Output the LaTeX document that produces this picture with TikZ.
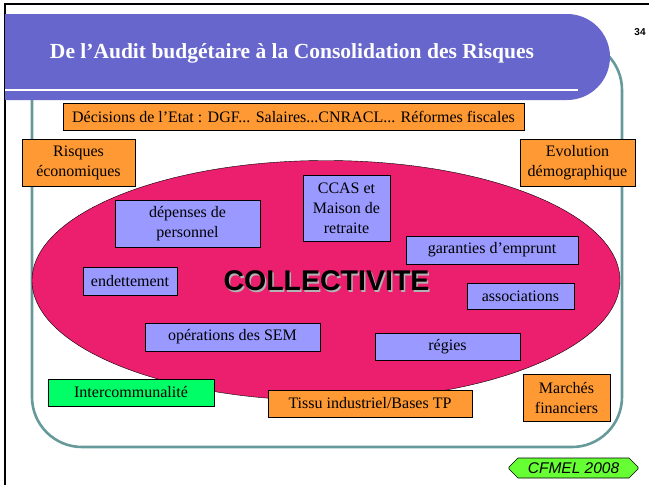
\documentclass[tikz,border=0pt]{standalone}
\usepackage{fontspec}
\usepackage{tikz}
\usepackage{xcolor}
\usetikzlibrary{shapes.misc}
\setmainfont{Liberation Serif}
\setsansfont{Liberation Sans}
\definecolor{titleblue}{HTML}{6666CC}
\definecolor{frameteal}{HTML}{669999}
\definecolor{riskorange}{HTML}{FF9933}
\definecolor{itemblue}{HTML}{9999FF}
\definecolor{collpink}{HTML}{EC1E6E}
\definecolor{intergreen}{HTML}{00FF66}
\definecolor{tagreen}{HTML}{66FF33}
\tikzset{
    plain-box/.style = {draw=black, line width=0.6pt, rectangle, inner sep=2pt, align=center, font=\fontsize{16}{20}\selectfont},
    orange-box/.style = {plain-box, fill=riskorange},
    blue-box/.style = {plain-box, fill=itemblue},
    green-box/.style = {plain-box, fill=intergreen},
}
\begin{document}
\begin{tikzpicture}[x=1pt, y=-1pt]
\useasboundingbox (0,0) rectangle (649,485);
% slide border
\draw[black, line width=1.6pt] (5,485) -- (5,4) -- (649,4);
% frame and title
\draw[frameteal, line width=2.6pt, rounded corners=50pt] (32,40) rectangle (622,447);
\fill[titleblue] (5,14) -- (567,14) arc[start angle=-90, end angle=90, radius=43] -- (5,100) -- cycle;
\draw[white, line width=2.2pt] (5,90) -- (578,90);
\node[text=white, font=\fontsize{21.5}{24}\bfseries\selectfont] (title) at (292,53) {De l'Audit budgétaire à la Consolidation des Risques};
\node[font=\sffamily\bfseries\fontsize{10}{11}\selectfont] (page) at (640,32) {34};
% the collectivity
\draw[black, thin, fill=collpink] (326,280.5) ellipse [x radius=294, y radius=120];
\node[text=gray!60, font=\sffamily\bfseries\fontsize{28.5}{30}\selectfont] (collshadow) at (328,282.5) {COLLECTIVITE};
\node[font=\sffamily\bfseries\fontsize{28.5}{30}\selectfont] (coll) at (326.5,281) {COLLECTIVITE};
% outside risks
\node[orange-box, minimum width=461pt, minimum height=27pt] (decisions) at (293.5,117) {Décisions de l'Etat : DGF... Salaires...CNRACL... Réformes fiscales};
\node[orange-box, minimum width=113pt, minimum height=47pt] (risques) at (78.5,162.5) {Risques\\économiques};
\node[orange-box, minimum width=115pt, minimum height=47pt] (evolution) at (577.5,162.5) {Evolution\\démographique};
\node[orange-box, minimum width=204pt, minimum height=27pt] (tissu) at (370,403.5) {Tissu industriel/Bases TP};
\node[orange-box, minimum width=87pt, minimum height=47pt] (marches) at (566.5,398) {Marchés\\financiers};
\node[green-box, minimum width=166pt, minimum height=27pt] (intercom) at (131,392.5) {Intercommunalité};
% inside risks
\node[blue-box, minimum width=145pt, minimum height=47pt] (depenses) at (187.5,223.5) {dépenses de\\personnel};
\node[blue-box, minimum width=87pt, minimum height=66pt] (ccas) at (346.5,208) {CCAS et\\Maison de\\retraite};
\node[blue-box, minimum width=172pt, minimum height=28pt] (garanties) at (492,250) {garanties d'emprunt};
\node[blue-box, minimum width=94pt, minimum height=28pt] (endettement) at (130,281) {endettement};
\node[blue-box, minimum width=107pt, minimum height=26pt] (associations) at (520.5,296) {associations};
\node[blue-box, minimum width=175pt, minimum height=28pt] (sem) at (232.5,337) {opérations des SEM};
\node[blue-box, minimum width=145pt, minimum height=27pt] (regies) at (447.5,346.5) {régies};
% tag
\node[chamfered rectangle, chamfered rectangle xsep=6pt, draw=black, line width=0.6pt, fill=tagreen, minimum width=129pt, minimum height=20pt, inner sep=1pt, font=\sffamily\itshape\fontsize{15.5}{16}\selectfont] (cfmel) at (573.5,468) {CFMEL 2008};
\end{tikzpicture}
\end{document}
